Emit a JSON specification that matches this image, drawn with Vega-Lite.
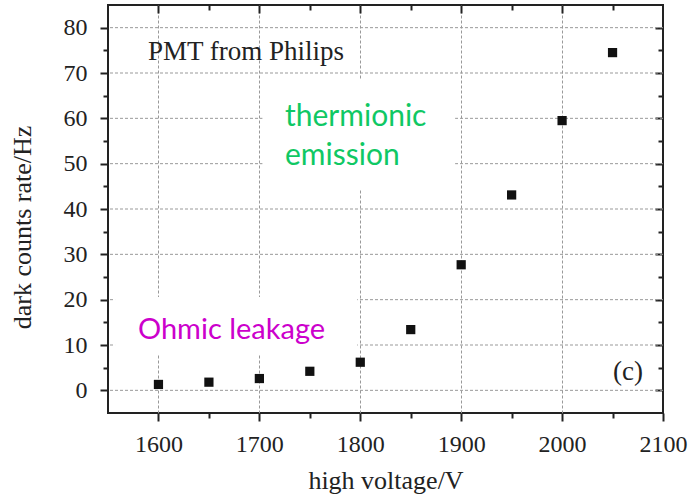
{
  "$schema": "https://vega.github.io/schema/vega-lite/v6.json",
  "autosize": {"type": "none"},
  "width": 555,
  "height": 408,
  "padding": {"left": 108, "top": 5, "right": 30, "bottom": 86},
  "background": "white",
  "config": {
    "view": {"stroke": "#222", "strokeWidth": 2},
    "axis": {
      "domain": false,
      "labelFont": "Liberation Serif",
      "labelFontSize": 24,
      "labelColor": "#222",
      "titleFont": "Liberation Serif",
      "titleFontSize": 26,
      "titleFontWeight": "normal",
      "titleColor": "#222",
      "tickColor": "#222",
      "tickWidth": 2,
      "gridDash": [3, 2],
      "gridWidth": 1
    }
  },
  "datasets": {
    "pts": [
      {"voltage": 1600, "rate": 1.3},
      {"voltage": 1650, "rate": 1.8},
      {"voltage": 1700, "rate": 2.6},
      {"voltage": 1750, "rate": 4.2},
      {"voltage": 1800, "rate": 6.2},
      {"voltage": 1850, "rate": 13.4},
      {"voltage": 1900, "rate": 27.7},
      {"voltage": 1950, "rate": 43.1},
      {"voltage": 2000, "rate": 59.5},
      {"voltage": 2050, "rate": 74.5}
    ],
    "hgrid": [
      {"g": 0}, {"g": 10}, {"g": 20}, {"g": 30}, {"g": 40},
      {"g": 50}, {"g": 60}, {"g": 70}, {"g": 80}
    ],
    "boxes": [
      {"x1": 1703, "x2": 1894, "y1": 44.2, "y2": 68.5},
      {"x1": 1557, "x2": 1797, "y1": 7.8, "y2": 20.6}
    ]
  },
  "resolve": {"axis": {"x": "independent", "y": "independent"}},
  "layer": [
    {
      "data": {"name": "pts"},
      "mark": {"type": "square", "opacity": 0},
      "encoding": {
        "x": {
          "field": "voltage", "type": "quantitative",
          "scale": {"domain": [1550, 2100], "nice": false, "zero": false},
          "axis": {
            "orient": "bottom",
            "title": "high voltage/V",
            "values": [1600, 1650, 1700, 1750, 1800, 1850, 1900, 1950, 2000, 2050, 2100],
            "labelExpr": "datum.value % 100 === 0 ? datum.label : ''",
            "format": "d",
            "grid": true,
            "gridColor": {"condition": {"test": "datum.value % 100 === 0 && datum.value < 2100", "value": "#999999"}, "value": "transparent"},
            "tickSize": {"condition": {"test": "datum.value % 100 === 0", "value": 8}, "value": 5},
            "labelPadding": 11,
            "labelFlush": false,
            "titleBaseline": "alphabetic",
            "titleY": 75
          }
        },
        "y": {
          "field": "rate", "type": "quantitative",
          "scale": {"domain": [-5, 85], "nice": false, "zero": false},
          "axis": {
            "orient": "left",
            "title": "dark counts rate/Hz",
            "values": [0, 5, 10, 15, 20, 25, 30, 35, 40, 45, 50, 55, 60, 65, 70, 75, 80],
            "labelExpr": "datum.value % 10 === 0 ? datum.label : ''",
            "grid": false,
            "tickSize": {"condition": {"test": "datum.value % 10 === 0", "value": 8}, "value": 5},
            "labelPadding": 13,
            "labelFlush": false,
            "titleX": -86,
            "titleY": 222,
            "titleBaseline": "middle"
          }
        }
      }
    },
    {
      "data": {"name": "pts"},
      "mark": {"type": "square", "opacity": 0},
      "encoding": {
        "x": {
          "field": "voltage", "type": "quantitative",
          "scale": {"domain": [1550, 2100], "nice": false, "zero": false},
          "axis": {
            "orient": "top",
            "title": null,
            "labels": false,
            "grid": false,
            "values": [1600, 1650, 1700, 1750, 1800, 1850, 1900, 1950, 2000, 2050],
            "tickSize": {"condition": {"test": "datum.value % 100 === 0", "value": -8}, "value": -5}
          }
        },
        "y": {
          "field": "rate", "type": "quantitative",
          "scale": {"domain": [-5, 85], "nice": false, "zero": false},
          "axis": {
            "orient": "right",
            "title": null,
            "labels": false,
            "grid": false,
            "values": [0, 5, 10, 15, 20, 25, 30, 35, 40, 45, 50, 55, 60, 65, 70, 75, 80],
            "tickSize": {"condition": {"test": "datum.value % 10 === 0", "value": -8}, "value": -5}
          }
        }
      }
    },
    {
      "data": {"name": "hgrid"},
      "mark": {"type": "rule", "color": "#999999", "strokeDash": [3, 2], "strokeWidth": 1, "opacity": 1},
      "encoding": {
        "y": {"field": "g", "type": "quantitative", "scale": {"domain": [-5, 85], "nice": false, "zero": false}, "axis": null}
      }
    },
    {
      "data": {"name": "boxes"},
      "mark": {"type": "rect", "color": "white", "opacity": 1},
      "encoding": {
        "x": {"field": "x1", "type": "quantitative", "scale": {"domain": [1550, 2100], "nice": false, "zero": false}, "axis": null},
        "x2": {"field": "x2"},
        "y": {"field": "y1", "type": "quantitative", "scale": {"domain": [-5, 85], "nice": false, "zero": false}, "axis": null},
        "y2": {"field": "y2"}
      }
    },
    {
      "data": {"name": "pts"},
      "mark": {"type": "square", "color": "#111", "size": 85, "opacity": 1},
      "encoding": {
        "x": {"field": "voltage", "type": "quantitative", "scale": {"domain": [1550, 2100], "nice": false, "zero": false}, "axis": null},
        "y": {"field": "rate", "type": "quantitative", "scale": {"domain": [-5, 85], "nice": false, "zero": false}, "axis": null}
      }
    },
    {
      "data": {"values": [
        {"label": "PMT from Philips", "x": 1589.6, "y": 72.9},
        {"label": "(c)", "x": 2050.5, "y": 2.3}
      ]},
      "mark": {"type": "text", "font": "Liberation Serif", "fontSize": 27, "align": "left", "baseline": "alphabetic", "color": "#222"},
      "encoding": {
        "x": {"field": "x", "type": "quantitative", "scale": {"domain": [1550, 2100], "nice": false, "zero": false}, "axis": null},
        "y": {"field": "y", "type": "quantitative", "scale": {"domain": [-5, 85], "nice": false, "zero": false}, "axis": null},
        "text": {"field": "label"}
      }
    },
    {
      "data": {"values": [
        {"label": "thermionic", "x": 1725.4, "y": 58.2},
        {"label": "emission", "x": 1725.4, "y": 49.7}
      ]},
      "mark": {"type": "text", "font": "Lato", "fontSize": 30, "align": "left", "baseline": "alphabetic", "color": "#0fc864"},
      "encoding": {
        "x": {"field": "x", "type": "quantitative", "scale": {"domain": [1550, 2100], "nice": false, "zero": false}, "axis": null},
        "y": {"field": "y", "type": "quantitative", "scale": {"domain": [-5, 85], "nice": false, "zero": false}, "axis": null},
        "text": {"field": "label"}
      }
    },
    {
      "data": {"values": [
        {"label": "Ohmic leakage", "x": 1579.7, "y": 11.3}
      ]},
      "mark": {"type": "text", "font": "Lato", "fontSize": 29, "align": "left", "baseline": "alphabetic", "color": "#cc00cc"},
      "encoding": {
        "x": {"field": "x", "type": "quantitative", "scale": {"domain": [1550, 2100], "nice": false, "zero": false}, "axis": null},
        "y": {"field": "y", "type": "quantitative", "scale": {"domain": [-5, 85], "nice": false, "zero": false}, "axis": null},
        "text": {"field": "label"}
      }
    }
  ]
}
